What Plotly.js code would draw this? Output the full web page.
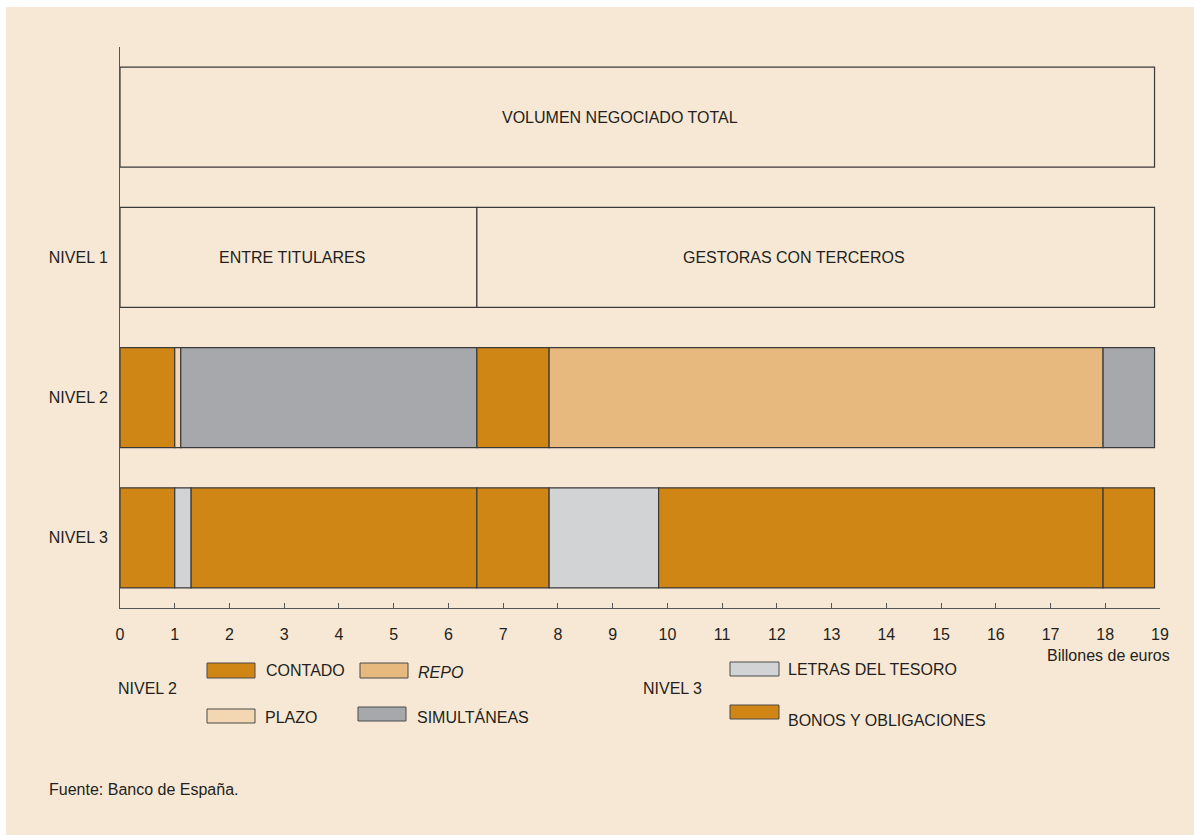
<!DOCTYPE html>
<html>
<head>
<meta charset="utf-8">
<script src="https://cdn.plot.ly/plotly-3.0.1.min.js"></script>
<style>
  html, body { margin: 0; padding: 0; background: #ffffff; }
  #chart { position: absolute; left: 6px; top: 7px; width: 1188px; height: 828px; }
</style>
</head>
<body>
<div id="chart"></div>
<script>
// Row positions (bottom to top) and their tick labels
const rowPos = [0, 1, 2, 3];
const rowLabels = ['NIVEL 3', 'NIVEL 2', 'NIVEL 1', ''];

// Volume traded, billions of euros
const totalVolume = 18.9;

// Level 1 split
const nivel1Names = ['ENTRE TITULARES', 'GESTORAS CON TERCEROS'];
const nivel1Values = [6.52, 12.38];

// Level 2 segments, left to right
const nivel2Types = ['CONTADO', 'PLAZO', 'SIMULTÁNEAS', 'CONTADO', 'REPO', 'SIMULTÁNEAS'];
const nivel2Values = [1.0, 0.11, 5.41, 1.32, 10.12, 0.94];

// Level 3 segments, left to right
const nivel3Types = ['BONOS', 'LETRAS', 'BONOS', 'BONOS', 'LETRAS', 'BONOS', 'BONOS'];
const nivel3Values = [1.0, 0.3, 5.22, 1.32, 2.0, 8.12, 0.94];

const colours = {
  'CONTADO': '#cf8614',
  'REPO': '#e8b97f',
  'PLAZO': '#f2d7b2',
  'SIMULTÁNEAS': '#a7a8ab',
  'LETRAS': '#d2d3d5',
  'BONOS': '#cf8614',
  'EMPTY': '#f7e8d5'
};

const BG = '#f7e8d5';
const INK = '#231f20';
const EDGE = '#3a3a3a';
const BAR_W = 0.714;

// Build one horizontal bar trace per row, each segment stacked with an explicit base
function rowTrace(y, types, values, widthLine) {
  const bases = [];
  let acc = 0;
  values.forEach(v => { bases.push(acc); acc += v; });
  return {
    type: 'bar',
    orientation: 'h',
    y: values.map(() => y),
    x: values,
    base: bases,
    width: values.map(() => BAR_W),
    marker: {
      color: types.map(t => colours[t]),
      line: { color: EDGE, width: widthLine }
    },
    hoverinfo: 'x',
    showlegend: false
  };
}

const traces = [
  rowTrace(rowPos[3], ['EMPTY'], [totalVolume], 1.2),
  rowTrace(rowPos[2], ['EMPTY', 'EMPTY'], nivel1Values, 1.2),
  rowTrace(rowPos[1], nivel2Types, nivel2Values, 1.2),
  rowTrace(rowPos[0], nivel3Types, nivel3Values, 1.2)
];

// Page-pixel helpers for the legend block under the axis
const L = 114, T = 40, PW = 1040, PH = 561, OX = 6, OY = 7;
const px = x => (x - OX - L) / PW;
const py = y => 1 - (y - OY - T) / PH;

const legendItems = [
  { key: 'CONTADO', label: 'CONTADO', box: [207, 663, 255, 678], tx: 264, ty: 670, italic: false },
  { key: 'REPO', label: 'REPO', box: [360, 663, 408, 678], tx: 416, ty: 672, italic: true },
  { key: 'PLAZO', label: 'PLAZO', box: [207, 709, 255, 723], tx: 263, ty: 717, italic: false },
  { key: 'SIMULTÁNEAS', label: 'SIMULTÁNEAS', box: [358, 707, 406, 721], tx: 415, ty: 717, italic: false },
  { key: 'LETRAS', label: 'LETRAS DEL TESORO', box: [730, 662, 779, 676], tx: 786, ty: 669, italic: false },
  { key: 'BONOS', label: 'BONOS Y OBLIGACIONES', box: [730, 705, 779, 719], tx: 786, ty: 720, italic: false }
];

const shapes = legendItems.map(it => ({
  type: 'rect', xref: 'paper', yref: 'paper',
  x0: px(it.box[0]), x1: px(it.box[2]), y0: py(it.box[3]), y1: py(it.box[1]),
  fillcolor: colours[it.key], line: { color: '#4a4a4a', width: 1 }
}));

const font = { family: 'Liberation Sans, Arial, Helvetica, sans-serif', size: 16, color: INK };

const annotations = legendItems.map(it => ({
  xref: 'paper', yref: 'paper', x: px(it.tx), y: py(it.ty),
  xanchor: 'left', yanchor: 'middle', showarrow: false,
  text: it.italic ? '<i>' + it.label + '</i>' : it.label, font: font
}));

// Labels inside the empty boxes
annotations.push(
  { x: 9.13, y: rowPos[3], xref: 'x', yref: 'y', text: 'VOLUMEN NEGOCIADO TOTAL', showarrow: false, font: font },
  { x: 3.14, y: rowPos[2], xref: 'x', yref: 'y', text: nivel1Names[0], showarrow: false, font: font },
  { x: 12.31, y: rowPos[2], xref: 'x', yref: 'y', text: nivel1Names[1], showarrow: false, font: font },
  { xref: 'paper', yref: 'paper', x: px(116), y: py(688), xanchor: 'left', yanchor: 'middle', text: 'NIVEL 2', showarrow: false, font: font },
  { xref: 'paper', yref: 'paper', x: px(641), y: py(688), xanchor: 'left', yanchor: 'middle', text: 'NIVEL 3', showarrow: false, font: font },
  { xref: 'paper', yref: 'paper', x: px(1172), y: py(656), xanchor: 'right', yanchor: 'middle', text: 'Billones de euros', showarrow: false, font: font },
  { xref: 'paper', yref: 'paper', x: px(47), y: py(789), xanchor: 'left', yanchor: 'middle', text: 'Fuente: Banco de España.', showarrow: false, font: font }
);

const layout = {
  width: 1188, height: 828,
  margin: { l: L, r: 1188 - L - PW, t: T, b: 828 - T - PH, pad: 0 },
  paper_bgcolor: BG, plot_bgcolor: BG,
  barmode: 'overlay',
  font: font,
  xaxis: {
    range: [0, 19], dtick: 1, tick0: 0, fixedrange: true,
    showgrid: false, zeroline: false,
    showline: true, linecolor: '#555555', linewidth: 1,
    ticks: 'inside', ticklen: 5, tickcolor: '#555555',
    ticklabelstandoff: 12, tickfont: font
  },
  yaxis: {
    range: [-0.5, 3.5], tickvals: rowPos, ticktext: rowLabels, fixedrange: true,
    showgrid: false, zeroline: false,
    showline: true, linecolor: '#555555', linewidth: 1,
    ticks: '', ticklabelstandoff: 8, tickfont: font
  },
  shapes: shapes,
  annotations: annotations
};

Plotly.newPlot('chart', traces, layout, { displayModeBar: false, staticPlot: true });
</script>
</body>
</html>
